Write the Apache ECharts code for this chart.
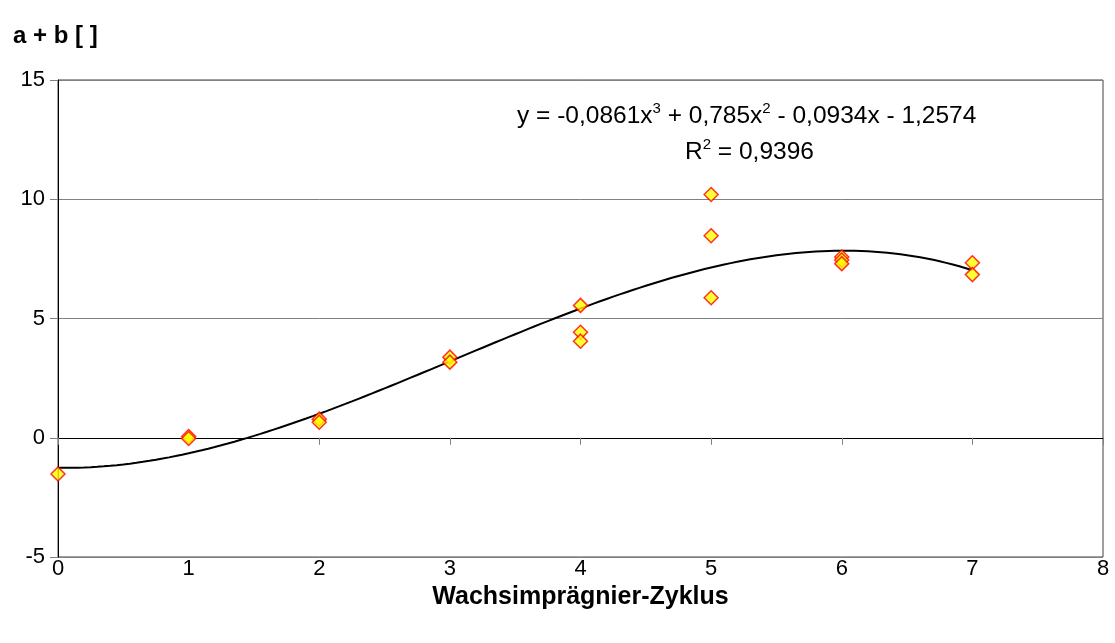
<!DOCTYPE html>
<html>
<head>
<meta charset="utf-8">
<script src="https://cdn.jsdelivr.net/npm/echarts@6/dist/echarts.min.js"></script>
<style>
  html, body { margin: 0; padding: 0; background: #fff; }
  #chart { width: 1115px; height: 643px; }
</style>
</head>
<body>
<div id="chart"></div>
<script>
// Measured cycles (x) and a + b values (y)
const cycles   = [0,    1,    1,     2,    2,    3,    3,    4,    4,    4,    5,    5,    5,    6,    6,    6,    7,    7];
const abValues = [-1.52, 0.05, -0.03, 0.78, 0.65, 3.38, 3.17, 5.55, 4.42, 4.05, 10.2, 8.47, 5.87, 7.58, 7.45, 7.30, 7.34, 6.84];

// Polynomial trend (3rd order) coefficients: c3, c2, c1, c0
const trendCoeffs = [-0.0861, 0.785, -0.0934, -1.2574];
const trendRange = [0, 7];

const xTicks = [0, 1, 2, 3, 4, 5, 6, 7, 8];
const yTicks = [-5, 0, 5, 10, 15];

const FONT = '"Liberation Sans", Arial, sans-serif';

const points = cycles.map((c, i) => [c, abValues[i]]);

const trend = [];
for (let k = 0; k <= 140; k++) {
  const x = trendRange[0] + (trendRange[1] - trendRange[0]) * k / 140;
  const [a, b, c, d] = trendCoeffs;
  trend.push([x, a * x * x * x + b * x * x + c * x + d]);
}

const eqRich = {
  n: { fontFamily: FONT, fontSize: 24.5, fill: '#000', lineHeight: 28, verticalAlign: 'bottom' },
  s: { fontFamily: FONT, fontSize: 15, fill: '#000', lineHeight: 28, verticalAlign: 'top' }
};

const chart = echarts.init(document.getElementById('chart'));
chart.setOption({
  animation: false,
  backgroundColor: '#fff',
  title: {
    text: 'a + b [ ]',
    left: 8, top: 19,
    textStyle: { fontFamily: FONT, fontSize: 24, fontWeight: 'bold', color: '#000' }
  },
  grid: {
    left: 58, right: 12, top: 80, bottom: 86,
    show: true, borderColor: '#404040', borderWidth: 1, backgroundColor: 'transparent'
  },
  xAxis: [
    {
      type: 'value', min: xTicks[0], max: xTicks[xTicks.length - 1], interval: 1,
      position: 'bottom',
      axisLine: { show: false, onZero: false },
      axisTick: { show: false },
      splitLine: { show: false },
      axisLabel: { fontFamily: FONT, fontSize: 22, color: '#000', margin: 1 },
      name: 'Wachsimprägnier-Zyklus',
      nameLocation: 'middle', nameGap: 28,
      nameTextStyle: { fontFamily: FONT, fontSize: 25, fontWeight: 'bold', color: '#000' }
    },
    {
      // axis line drawn through y = 0 with downward ticks
      type: 'value', min: xTicks[0], max: xTicks[xTicks.length - 1], interval: 1,
      position: 'top',
      axisLine: { show: true, onZero: true, lineStyle: { color: '#000', width: 1 } },
      axisTick: { show: true, inside: true, length: 7, lineStyle: { color: '#808080' } },
      axisLabel: { show: false },
      splitLine: { show: false }
    }
  ],
  yAxis: {
    type: 'value', min: yTicks[0], max: yTicks[yTicks.length - 1], interval: 5,
    axisLine: { show: true, onZero: false, lineStyle: { color: '#000', width: 1 } },
    axisTick: { show: true, length: 8, lineStyle: { color: '#808080' } },
    axisLabel: { fontFamily: FONT, fontSize: 22, color: '#000', margin: 13 },
    splitLine: { show: true, lineStyle: { color: '#808080', width: 1 } }
  },
  graphic: [
    {
      type: 'text', left: 517, top: 101,
      style: { text: '{n|y = -0,0861x}{s|3}{n| + 0,785x}{s|2}{n| - 0,0934x - 1,2574}', rich: eqRich }
    },
    {
      type: 'text', left: 685, top: 137,
      style: { text: '{n|R}{s|2}{n| = 0,9396}', rich: eqRich }
    }
  ],
  series: [
    {
      type: 'line', data: trend, xAxisIndex: 0,
      showSymbol: false, smooth: false,
      lineStyle: { color: '#000', width: 2 },
      z: 3
    },
    {
      type: 'scatter', data: points, xAxisIndex: 0,
      symbol: 'diamond', symbolSize: 14,
      itemStyle: { color: '#ffff00', borderColor: '#ff0000', borderWidth: 1.5 },
      z: 4
    }
  ]
});
</script>
</body>
</html>
